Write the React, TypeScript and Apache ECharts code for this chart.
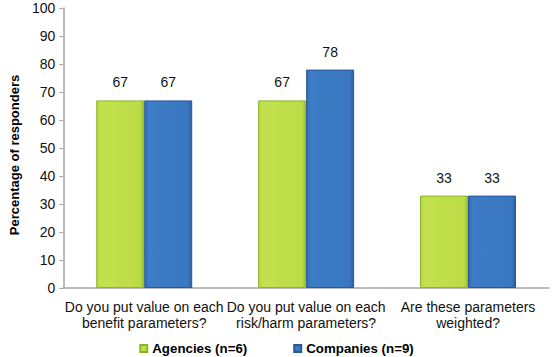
import React, { useEffect, useRef } from "react";
import * as echarts from "echarts";

const categories = [
  "Do you put value on each\nbenefit parameters?",
  "Do you put value on each\nrisk/harm parameters?",
  "Are these parameters\nweighted?",
];
const agencies = [67, 67, 33];
const companies = [67, 78, 33];
const seriesNames = ["Agencies (n=6)", "Companies (n=9)"];

const FONT = "'Liberation Sans', Arial, Helvetica, sans-serif";

export default function App() {
  const ref = useRef<HTMLDivElement>(null);
  useEffect(() => {
    if (!ref.current) return;
    const chart = echarts.init(ref.current, undefined, { renderer: "svg" });
    const green = new echarts.graphic.LinearGradient(0, 0, 1, 0, [
      { offset: 0, color: "#b5d63c" },
      { offset: 0.08, color: "#c4e04e" },
      { offset: 0.92, color: "#bcdc46" },
      { offset: 1, color: "#9cc22e" },
    ]);
    const blue = new echarts.graphic.LinearGradient(0, 0, 1, 0, [
      { offset: 0, color: "#3469b0" },
      { offset: 0.08, color: "#3d7cc6" },
      { offset: 0.92, color: "#3a77c0" },
      { offset: 1, color: "#2c5d9f" },
    ]);
    chart.setOption({
      animation: false,
      textStyle: { fontFamily: FONT },
      grid: { left: 50, right: 4, top: 8, bottom: 69, containLabel: false },
      legend: {
        bottom: 2,
        padding: 0,
        left: "center",
        itemWidth: 7,
        itemHeight: 7,
        itemGap: 46,
        icon: "rect",
        textStyle: { fontFamily: FONT, fontSize: 13.3, fontWeight: "bold", color: "#000" },
        data: seriesNames,
      },
      xAxis: {
        type: "category",
        data: categories,
        axisLine: { lineStyle: { color: "#a6a6a6", width: 1.5 } },
        axisTick: { show: false },
        axisLabel: {
          fontFamily: FONT,
          fontSize: 14,
          color: "#111",
          lineHeight: 16,
          margin: 11,
          interval: 0,
        },
      },
      yAxis: {
        type: "value",
        min: 0,
        max: 100,
        interval: 10,
        name: "Percentage of responders",
        nameLocation: "middle",
        nameGap: 37,
        nameTextStyle: {
          fontFamily: FONT,
          fontSize: 13,
          fontWeight: "bold",
          color: "#000",
          padding: [0, 14, 0, 0],
        },
        axisLine: { show: true, lineStyle: { color: "#a6a6a6", width: 1.5 } },
        axisTick: { show: true, length: 4, lineStyle: { color: "#a6a6a6" } },
        splitLine: { show: false },
        axisLabel: { fontFamily: FONT, fontSize: 14, color: "#111", margin: 8 },
      },
      series: [
        {
          name: seriesNames[0],
          type: "bar",
          data: agencies,
          barWidth: 48,
          barGap: "0%",
          itemStyle: { color: green, borderColor: "#8db52a", borderWidth: 1 },
          label: { show: true, position: "top", distance: 11, fontFamily: FONT, fontSize: 14, color: "#111" },
        },
        {
          name: seriesNames[1],
          type: "bar",
          data: companies,
          barWidth: 48,
          barGap: "0%",
          itemStyle: { color: blue, borderColor: "#28589a", borderWidth: 1 },
          label: { show: true, position: "top", distance: 11, fontFamily: FONT, fontSize: 14, color: "#111" },
        },
      ],
    });
    return () => chart.dispose();
  }, []);
  return (
    <div
      ref={ref}
      style={{ position: "absolute", left: 0, top: 0, width: 553, height: 357, background: "#fff" }}
    />
  );
}
